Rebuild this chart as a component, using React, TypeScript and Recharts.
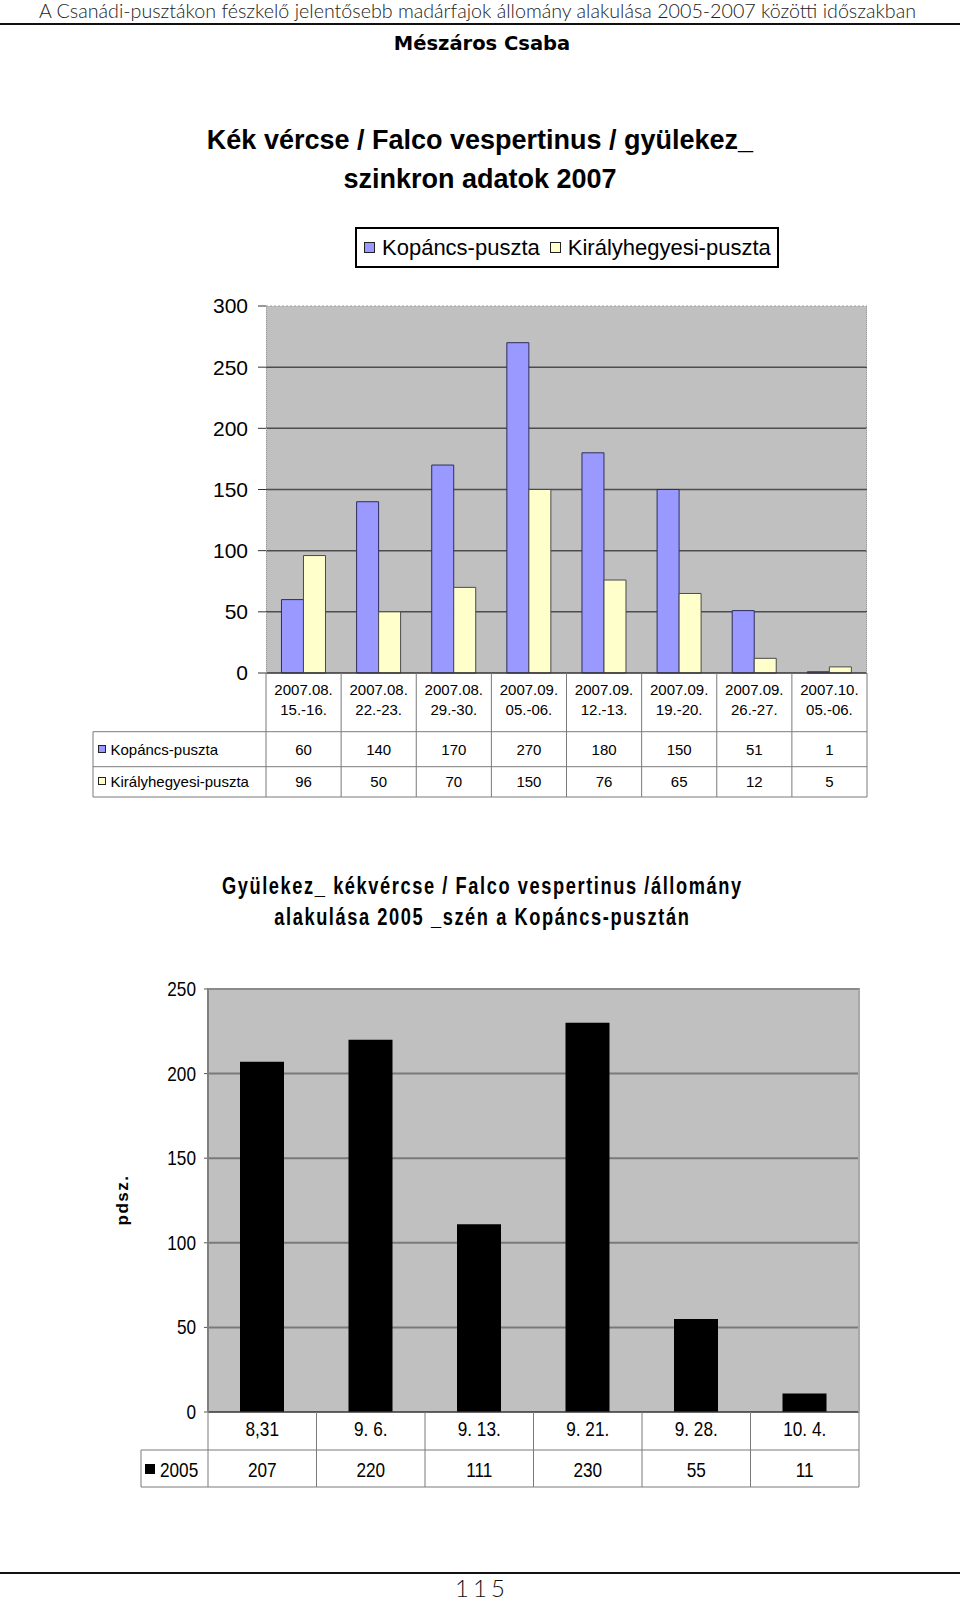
import React from "react";
import { Bar, BarChart, CartesianGrid, ReferenceLine, XAxis, YAxis } from "recharts";

// 2007-es szinkron számlálás
const periodMonth = ["2007.08.", "2007.08.", "2007.08.", "2007.09.", "2007.09.", "2007.09.", "2007.09.", "2007.10."];
const periodDays = ["15.-16.", "22.-23.", "29.-30.", "05.-06.", "12.-13.", "19.-20.", "26.-27.", "05.-06."];
const kopancs = [60, 140, 170, 270, 180, 150, 51, 1];
const kiralyhegyes = [96, 50, 70, 150, 76, 65, 12, 5];
const ticks2007 = [0, 50, 100, 150, 200, 250, 300];
const seriesNames = ["Kopáncs-puszta", "Királyhegyesi-puszta"];

// 2005, Kopáncs-puszta
const dates2005 = ["8,31", "9. 6.", "9. 13.", "9. 21.", "9. 28.", "10. 4."];
const counts2005 = [207, 220, 111, 230, 55, 11];
const ticks2005 = [0, 50, 100, 150, 200, 250];
const series2005 = "2005";

const data2007 = periodMonth.map((m, i) => ({
  label: `${m} ${periodDays[i]}`,
  kopancs: kopancs[i],
  kiraly: kiralyhegyes[i],
}));
const data2005 = dates2005.map((d, i) => ({ label: d, count: counts2005[i] }));

const ARIAL = '"Liberation Sans", Arial, sans-serif';
const NARROW_X = 0.86; // no Arial Narrow here, squeeze Liberation Sans instead
const BLUE = "#9999ff";
const CREAM = "#ffffcc";
const PLOT_BG = "#c0c0c0";
const TABLE_LINE = "#7a7a7a";

// chart 1 frame
const C1_TOP = 280;
const C1_H = 530;
const C1_LEFT = 266;
const C1_RIGHT = 867;
const C1_PLOT_TOP = 306;
const C1_PLOT_BOTTOM = 673;
const C1_AXIS_H = 124;
const C1_TABLE_LEFT = 93;
const C1_BAND = (C1_RIGHT - C1_LEFT) / periodMonth.length;

// chart 2 frame
const C2_TOP = 960;
const C2_H = 540;
const C2_LEFT = 208;
const C2_RIGHT = 859;
const C2_PLOT_TOP = 989;
const C2_PLOT_BOTTOM = 1412;
const C2_AXIS_H = 75;
const C2_TABLE_LEFT = 141;
const C2_BAND = (C2_RIGHT - C2_LEFT) / dates2005.length;

function Narrow({ x, y, anchor, children }: any) {
  return (
    <text transform={`translate(${x},${y}) scale(${NARROW_X},1)`} textAnchor={anchor} fontFamily={ARIAL} fontSize={20} fill="#000">
      {children}
    </text>
  );
}

function Tick2007(props: any) {
  const { x, y, payload } = props;
  const i = payload.index;
  const l = x - C1_BAND / 2;
  const r = x + C1_BAND / 2;
  const r1 = y + 58.7;
  const r2 = y + 93.7;
  const r3 = y + C1_AXIS_H;
  const txt = { fontFamily: ARIAL, fontSize: 15, fill: "#000", textAnchor: "middle" as const };
  return (
    <g>
      <text x={x} y={y + 22} {...txt}>{periodMonth[i]}</text>
      <text x={x} y={y + 42} {...txt}>{periodDays[i]}</text>
      <text x={x} y={y + 81.5} {...txt}>{kopancs[i]}</text>
      <text x={x} y={y + 113.5} {...txt}>{kiralyhegyes[i]}</text>
      <line x1={r} x2={r} y1={y} y2={r3} stroke={TABLE_LINE} />
      <line x1={l} x2={r} y1={r1} y2={r1} stroke={TABLE_LINE} />
      <line x1={l} x2={r} y1={r2} y2={r2} stroke={TABLE_LINE} />
      <line x1={l} x2={r} y1={r3} y2={r3} stroke={TABLE_LINE} />
      {i === 0 && (
        <g>
          <line x1={l} x2={l} y1={y} y2={r3} stroke={TABLE_LINE} />
          <line x1={C1_TABLE_LEFT} x2={C1_TABLE_LEFT} y1={r1} y2={r3} stroke={TABLE_LINE} />
          <line x1={C1_TABLE_LEFT} x2={l} y1={r1} y2={r1} stroke={TABLE_LINE} />
          <line x1={C1_TABLE_LEFT} x2={l} y1={r2} y2={r2} stroke={TABLE_LINE} />
          <line x1={C1_TABLE_LEFT} x2={l} y1={r3} y2={r3} stroke={TABLE_LINE} />
          <rect x={98.5} y={y + 72.5} width={7} height={7} fill={BLUE} stroke="#222" />
          <text x={110.5} y={y + 81.5} fontFamily={ARIAL} fontSize={15} fill="#000">{seriesNames[0]}</text>
          <rect x={98.5} y={y + 104.5} width={7} height={7} fill={CREAM} stroke="#222" />
          <text x={110.5} y={y + 113.5} fontFamily={ARIAL} fontSize={15} fill="#000">{seriesNames[1]}</text>
        </g>
      )}
    </g>
  );
}

function YTick2005(props: any) {
  const { x, y, payload } = props;
  return <Narrow x={x} y={y + 7} anchor="end">{payload.value}</Narrow>;
}

function Tick2005(props: any) {
  const { x, y, payload } = props;
  const i = payload.index;
  const l = x - C2_BAND / 2;
  const r = x + C2_BAND / 2;
  const r1 = y + 38;
  const r2 = y + C2_AXIS_H;
  return (
    <g>
      <Narrow x={x} y={y + 24} anchor="middle">{dates2005[i]}</Narrow>
      <Narrow x={x} y={y + 65} anchor="middle">{counts2005[i]}</Narrow>
      <line x1={r} x2={r} y1={y} y2={r2} stroke={TABLE_LINE} />
      <line x1={l} x2={r} y1={r1} y2={r1} stroke={TABLE_LINE} />
      <line x1={l} x2={r} y1={r2} y2={r2} stroke={TABLE_LINE} />
      {i === 0 && (
        <g>
          <line x1={l} x2={l} y1={y} y2={r2} stroke={TABLE_LINE} />
          <line x1={C2_TABLE_LEFT} x2={C2_TABLE_LEFT} y1={r1} y2={r2} stroke={TABLE_LINE} />
          <line x1={C2_TABLE_LEFT} x2={l} y1={r1} y2={r1} stroke={TABLE_LINE} />
          <line x1={C2_TABLE_LEFT} x2={l} y1={r2} y2={r2} stroke={TABLE_LINE} />
          <rect x={145} y={y + 52} width={10} height={10} fill="#000" />
          <Narrow x={160} y={y + 65} anchor="start">{series2005}</Narrow>
        </g>
      )}
    </g>
  );
}

function Legend2007() {
  const colors = [BLUE, CREAM];
  return (
    <div
      style={{
        position: "absolute",
        left: 355,
        top: 227,
        width: 424,
        height: 41,
        boxSizing: "border-box",
        border: "2px solid #000",
        display: "flex",
        alignItems: "center",
        fontFamily: ARIAL,
        fontSize: 22,
        background: "#fff",
        whiteSpace: "nowrap",
      }}
    >
      {seriesNames.map((n, i) => (
        <div key={n} style={{ display: "flex", alignItems: "center", marginLeft: i === 0 ? 7 : 10 }}>
          <span style={{ width: 9, height: 9, border: "1px solid #222", background: colors[i], marginRight: 7 }} />
          <span>{n}</span>
        </div>
      ))}
    </div>
  );
}

export default function App() {
  return (
    <div style={{ position: "absolute", left: 0, top: 0, width: 960, height: 1605, background: "#fff", overflow: "hidden" }}>
      <svg width={960} height={30} style={{ position: "absolute", left: 0, top: 0 }}>
        <text x={39} y={18} textLength={877} lengthAdjust="spacingAndGlyphs" fontFamily="Lato, 'Open Sans', sans-serif" fontWeight={300} fontSize={19} fill="#222">
          A Csanádi-pusztákon fészkelő jelentősebb madárfajok állomány alakulása 2005-2007 közötti időszakban
        </text>
      </svg>
      <div style={{ position: "absolute", left: 0, top: 23, width: 960, height: 2, background: "#111" }} />
      <div style={{ position: "absolute", left: 4, top: 32, width: 956, textAlign: "center", fontFamily: '"DejaVu Sans", Verdana, sans-serif', fontWeight: 700, fontSize: 19.5, lineHeight: "24px" }}>
        Mészáros Csaba
      </div>

      {/* 2007 */}
      <div style={{ position: "absolute", left: 0, top: 121, width: 960, textAlign: "center", fontFamily: ARIAL, fontWeight: 700, fontSize: 27, lineHeight: "39px" }}>
        Kék vércse / Falco vespertinus / gyülekez_
        <br />
        szinkron adatok 2007
      </div>
      <Legend2007 />
      <div style={{ position: "absolute", left: 0, top: C1_TOP }}>
        <BarChart
          width={960}
          height={C1_H}
          data={data2007}
          margin={{ top: C1_PLOT_TOP - C1_TOP, right: 960 - C1_RIGHT, left: C1_LEFT - 60, bottom: C1_TOP + C1_H - C1_PLOT_BOTTOM - C1_AXIS_H }}
          barGap={0}
          barCategoryGap="20.6%"
        >
          <CartesianGrid vertical={false} fill={PLOT_BG} stroke="#4d4d4d" strokeWidth={1.5} horizontalValues={[50, 100, 150, 200, 250]} />
          <ReferenceLine y={300} stroke="#9a9a9a" strokeDasharray="2 2" />
          <XAxis dataKey="label" interval={0} height={C1_AXIS_H} tickLine={false} tickSize={0} tickMargin={0} axisLine={{ stroke: "#333", strokeWidth: 1.5 }} tick={(p: any) => <Tick2007 {...p} />} />
          <YAxis
            width={60}
            domain={[0, 300]}
            ticks={ticks2007}
            interval={0}
            axisLine={false}
            tickLine={{ stroke: "#333" }}
            tickSize={8}
            tickMargin={10}
            tick={{ fill: "#000", fontSize: 21, fontFamily: ARIAL }}
          />
          <Bar dataKey="kopancs" name={seriesNames[0]} fill={BLUE} stroke="#2e2e5c" strokeWidth={1} isAnimationActive={false} />
          <Bar dataKey="kiraly" name={seriesNames[1]} fill={CREAM} stroke="#4a4a4a" strokeWidth={1} isAnimationActive={false} />
        </BarChart>
      </div>
      <div
        style={{
          position: "absolute",
          left: C1_LEFT,
          top: C1_PLOT_TOP,
          width: C1_RIGHT - C1_LEFT,
          height: C1_PLOT_BOTTOM - C1_PLOT_TOP,
          boxSizing: "border-box",
          borderLeft: "1px dotted #9a9a9a",
          borderRight: "1px dotted #9a9a9a",
          pointerEvents: "none",
        }}
      />

      {/* 2005 */}
      <div style={{ position: "absolute", left: 4, top: 871, width: 956, textAlign: "center" }}>
        <div
          style={{
            display: "inline-block",
            transform: "scaleX(0.793)",
            fontFamily: ARIAL,
            fontWeight: 700,
            fontSize: 23,
            lineHeight: "31px",
            letterSpacing: 2,
          }}
        >
          Gyülekez_ kékvércse / Falco vespertinus /állomány
          <br />
          alakulása 2005 _szén a Kopáncs-pusztán
        </div>
      </div>
      <div
        style={{
          position: "absolute",
          left: 123 - 40,
          top: 1200 - 12,
          width: 80,
          height: 24,
          textAlign: "center",
          transform: "rotate(-90deg)",
          fontFamily: ARIAL,
          fontWeight: 700,
          fontSize: 17,
          lineHeight: "24px",
          letterSpacing: 1.5,
        }}
      >
        pdsz.
      </div>
      <div style={{ position: "absolute", left: 0, top: C2_TOP }}>
        <BarChart
          width={960}
          height={C2_H}
          data={data2005}
          margin={{ top: C2_PLOT_TOP - C2_TOP, right: 960 - C2_RIGHT, left: C2_LEFT - 60, bottom: C2_TOP + C2_H - C2_PLOT_BOTTOM - C2_AXIS_H }}
          barCategoryGap="29.5%"
        >
          <CartesianGrid vertical={false} fill={PLOT_BG} stroke="#7a7a7a" strokeWidth={2} horizontalValues={[50, 100, 150, 200]} />
          <XAxis dataKey="label" interval={0} height={C2_AXIS_H} tickLine={false} tickSize={0} tickMargin={0} axisLine={{ stroke: "#333", strokeWidth: 1.5 }} tick={(p: any) => <Tick2005 {...p} />} />
          <YAxis
            width={60}
            domain={[0, 250]}
            ticks={ticks2005}
            interval={0}
            axisLine={false}
            tickLine={{ stroke: "#555" }}
            tickSize={4}
            tickMargin={8}
            tick={(p: any) => <YTick2005 {...p} />}
          />
          <Bar dataKey="count" name={series2005} fill="#000" isAnimationActive={false} />
        </BarChart>
      </div>
      <div
        style={{
          position: "absolute",
          left: C2_LEFT - 1,
          top: C2_PLOT_TOP - 1,
          width: C2_RIGHT - C2_LEFT + 2,
          height: C2_PLOT_BOTTOM - C2_PLOT_TOP + 1,
          boxSizing: "border-box",
          borderLeft: "2px solid #808080",
          borderTop: "2px solid #8a8a8a",
          borderRight: "2px solid #a8a8a8",
          pointerEvents: "none",
        }}
      />

      <div style={{ position: "absolute", left: 0, top: 1572, width: 960, height: 2, background: "#111" }} />
      <div style={{ position: "absolute", left: 4, top: 1575, width: 956, textAlign: "center", fontFamily: "Lato, sans-serif", fontWeight: 300, fontSize: 24, lineHeight: "26px", letterSpacing: 4, color: "#111" }}>
        115
      </div>
    </div>
  );
}
